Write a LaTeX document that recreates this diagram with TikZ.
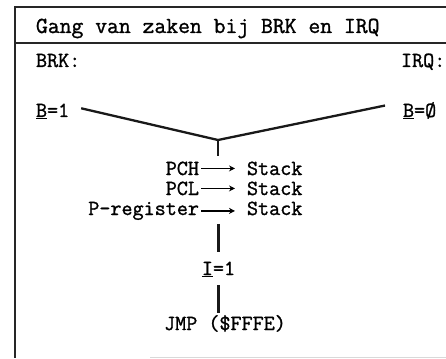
\documentclass[tikz,border=0pt]{standalone}
\usepackage{fontspec}
\setmonofont{Latin Modern Mono}[AutoFakeBold=1.2]
\usetikzlibrary{arrows.meta}
\tikzset{
  frameline/.style={line width=2.6pt, black!85},
  txt/.style={inner sep=0pt, outer sep=0pt, font=\ttfamily\bfseries\fontsize{21.5}{23}\selectfont},
  titletxt/.style={inner sep=0pt, outer sep=0pt, font=\ttfamily\bfseries\fontsize{23}{25}\selectfont},
  flow/.style={line width=2.3pt, black!90},
  pusharrow/.style={line width=1.4pt, -{Stealth[length=6pt,width=6pt]}}
}
\begin{document}
\begin{tikzpicture}[x=1pt,y=-1pt]
\useasboundingbox (0,0) rectangle (446,358);
% frame with title bar
\draw[frameline] (446,7) -- (15,7) -- (15,358);
\draw[line width=2.2pt, black!85] (15,43) -- (446,43);
\draw[line width=0.8pt, black!15] (150,357) -- (446,357);

% title
\node[titletxt, anchor=base west] (title) at (36,33) {Gang van zaken bij BRK en IRQ};

% the two entry cases
\node[txt, anchor=base west] (brk) at (36,67) {BRK:};
\node[txt, anchor=base west] (irq) at (401,67) {IRQ:};
\node[txt, anchor=base west] (bset) at (36,117) {\underline{B}=1};
\node[txt, anchor=base west] (bclr) at (403,117) {\underline{B}=Ø};

% merge point
\coordinate (j) at (218,140);
\coordinate (stem) at (218,156);
\path (bset.east) ++(12,-3) coordinate (bsetend);
\path (bclr.west) ++(-18,-5) coordinate (bclrend);
\draw[flow, line join=miter] (bsetend) -- (j) -- (bclrend);
\draw[flow] (j) -- (stem);

% pushes onto the stack
\node[txt, anchor=base east] (pch) at (199,175) {PCH};
\node[txt, anchor=base west] (s1) at (247,175) {Stack};
\node[txt, anchor=base east] (pcl) at (199,195) {PCL};
\node[txt, anchor=base west] (s2) at (247,195) {Stack};
\node[txt, anchor=base east] (preg) at (199,215) {P-register};
\node[txt, anchor=base west] (s3) at (247,215) {Stack};
\draw[pusharrow, shorten <=2pt, shorten >=12pt] (pch.east) -- (pch.east -| s1.west);
\draw[pusharrow, shorten <=2pt, shorten >=12pt] (pcl.east) -- (pcl.east -| s2.west);
\draw[pusharrow, shorten <=2pt, shorten >=12pt] (preg.east) -- (preg.east -| s3.west);

% interrupt flag and jump
\node[txt, anchor=base] (iflag) at (218.5,275) {\underline{I}=1};
\node[txt, anchor=base] (jmp) at (225,330) {JMP (\$FFFE)};
\draw[flow, shorten <=4pt, shorten >=10pt] (iflag.north |- preg.south) -- (iflag.north);
\draw[flow, shorten <=8pt, shorten >=2pt] (iflag.south) -- (iflag.south |- jmp.north);
\end{tikzpicture}
\end{document}
